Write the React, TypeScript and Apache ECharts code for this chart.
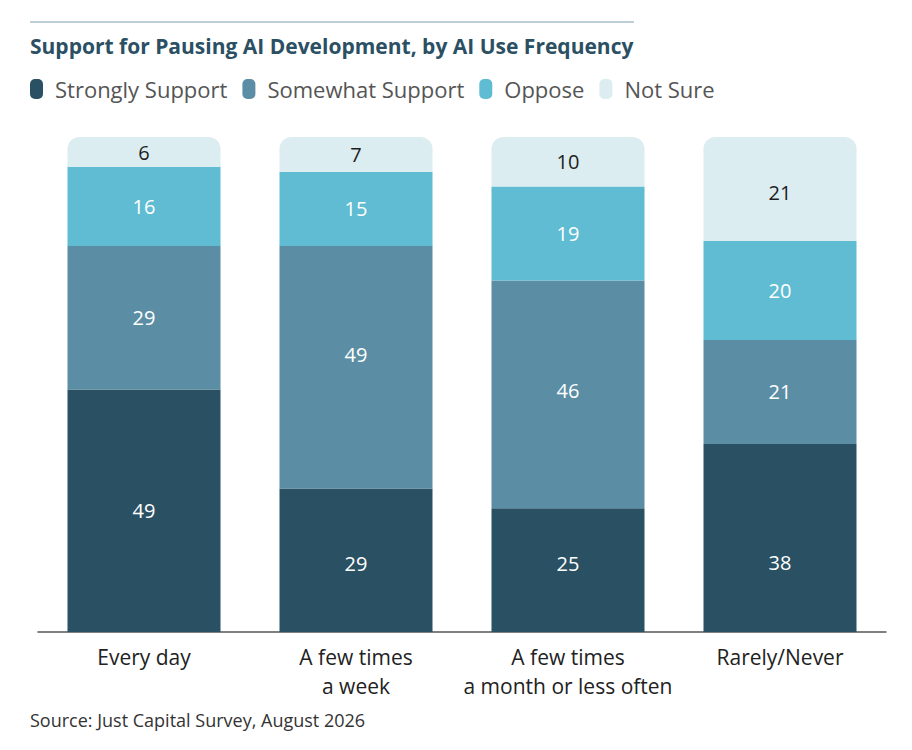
import { useEffect, useRef } from "react";
import * as echarts from "echarts";

const categories = ["Every day", "A few times\na week", "A few times\na month or less often", "Rarely/Never"];
const seriesNames = ["Strongly Support", "Somewhat Support", "Oppose", "Not Sure"];
const stronglySupport = [49, 29, 25, 38];
const somewhatSupport = [29, 49, 46, 21];
const oppose = [16, 15, 19, 20];
const notSure = [6, 7, 10, 21];
const colors = ["#2a5064", "#5b8ea5", "#5fbcd3", "#dbedf0"];
const labelColors = ["#ffffff", "#ffffff", "#ffffff", "#1e1e1e"];
// the source doesn't centre every label in its segment; vertical nudges per series / category
const labelNudges = [
  [0, 3, -7, 25],
  [0, -13, -4, 0],
  [0, 0, 0, 0],
  [1, 0, 0, 4],
];

const FONT = "Open Sans";
const legendIcon =
  "path://M5,0 H8 A5,5 0 0 1 13,5 V15 A5,5 0 0 1 8,20 H5 A5,5 0 0 1 0,15 V5 A5,5 0 0 1 5,0 Z";

export default function App() {
  const ref = useRef<HTMLDivElement | null>(null);

  useEffect(() => {
    if (!ref.current) return;
    const chart = echarts.init(ref.current, null, { renderer: "svg" });
    const values = [stronglySupport, somewhatSupport, oppose, notSure];

    chart.setOption({
      animation: false,
      backgroundColor: "#ffffff",
      textStyle: { fontFamily: FONT },
      title: {
        text: "Support for Pausing AI Development, by AI Use Frequency",
        left: 30,
        top: 35,
        padding: 0,
        textStyle: { fontFamily: FONT, fontSize: 21, fontWeight: "bold", color: "#2b4f63" },
      },
      legend: {
        left: 30,
        top: 78,
        padding: 0,
        icon: legendIcon,
        itemWidth: 13,
        itemHeight: 20,
        itemGap: 15,
        textStyle: { fontFamily: FONT, fontSize: 22, color: "#555555", padding: [0, 0, 0, 7] },
        data: seriesNames,
      },
      grid: { left: 38, right: 26, top: 137, bottom: 118 },
      xAxis: {
        type: "category",
        data: categories,
        axisLine: { lineStyle: { color: "#555555", width: 1.5 } },
        axisTick: { show: false },
        axisLabel: { interval: 0, fontFamily: FONT, fontSize: 21, color: "#222222", margin: 10, lineHeight: 29 },
      },
      yAxis: { type: "value", min: 0, max: 100, show: false },
      graphic: [
        {
          type: "line",
          shape: { x1: 30, y1: 22, x2: 634, y2: 22 },
          style: { stroke: "#7a9fb0", lineWidth: 1 },
        },
        {
          type: "text",
          left: 30,
          top: 711,
          style: { text: "Source: Just Capital Survey, August 2026", fontFamily: FONT, fontSize: 18, fill: "#333333" },
        },
      ],
      series: seriesNames.map((name, i) => ({
        name,
        type: "bar",
        stack: "total",
        barWidth: 153,
        data: values[i].map((v, j) => ({ value: v, label: { offset: [0, labelNudges[i][j]] } })),
        itemStyle: { color: colors[i], borderRadius: i === 3 ? [12, 12, 0, 0] : 0 },
        label: {
          show: true,
          position: "inside",
          fontFamily: FONT,
          fontSize: 20,
          color: labelColors[i],
        },
      })),
    });

    return () => chart.dispose();
  }, []);

  return <div ref={ref} style={{ position: "absolute", left: 0, top: 0, width: 912, height: 750 }} />;
}
